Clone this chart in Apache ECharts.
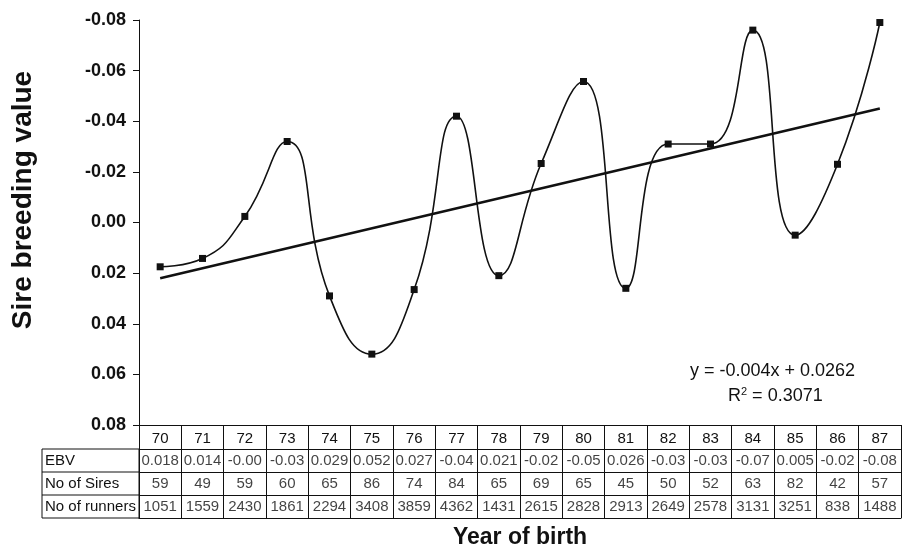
<!DOCTYPE html>
<html>
<head>
<meta charset="utf-8">
<script src="https://cdn.jsdelivr.net/npm/echarts@6/dist/echarts.min.js"></script>
<style>
  html, body { margin: 0; padding: 0; background: #ffffff; }
  #chart { width: 903px; height: 554px; }
</style>
</head>
<body>
<div id="chart"></div>
<script>
// ---- data ----
const years = ['70','71','72','73','74','75','76','77','78','79','80','81','82','83','84','85','86','87'];
const ebv = [0.0175, 0.0142, -0.0024, -0.032, 0.029, 0.052, 0.0265, -0.042, 0.021, -0.0233, -0.0557, 0.026, -0.031, -0.031, -0.076, 0.005, -0.023, -0.079];
const ebvLabels = ['0.018','0.014','-0.00','-0.03','0.029','0.052','0.027','-0.04','0.021','-0.02','-0.05','0.026','-0.03','-0.03','-0.07','0.005','-0.02','-0.08'];
const sires = [59, 49, 59, 60, 65, 86, 74, 84, 65, 69, 65, 45, 50, 52, 63, 82, 42, 57];
const runners = [1051, 1559, 2430, 1861, 2294, 3408, 3859, 4362, 1431, 2615, 2828, 2913, 2649, 2578, 3131, 3251, 838, 1488];
const rowNames = ['EBV', 'No of Sires', 'No of runners'];
const trendEnds = [0.022, -0.045];   // fitted line at first and last year
const equationText = 'y = -0.004x + 0.0262';
const r2Text = '0.3071';
const yTitle = 'Sire breeding value';
const xTitle = 'Year of birth';

// ---- build ----
const FONT = '"Liberation Sans", Arial, sans-serif';
const INK = '#111';

const tableCells = [];
const rows = [ebvLabels, sires.map(String), runners.map(String)];
rows.forEach((row, r) => row.forEach((txt, i) => tableCells.push([i, r, txt])));

const chart = echarts.init(document.getElementById('chart'), null, { renderer: 'canvas' });
chart.setOption({
  backgroundColor: '#ffffff',
  animation: false,
  textStyle: { fontFamily: FONT, color: INK },
  grid: [
    { left: 139, right: 2, top: 20, bottom: 129, containLabel: false, outerBoundsMode: 'none' },
    { left: 139, right: 2, top: 449, bottom: 36, containLabel: false, outerBoundsMode: 'none' }
  ],
  xAxis: [
    {
      type: 'category', gridIndex: 0, data: years, boundaryGap: true, position: 'bottom',
      axisLine: { show: true, onZero: false, lineStyle: { color: INK, width: 1 } },
      axisTick: { show: true, interval: 0, length: 24, lineStyle: { color: INK, width: 1 } },
      axisLabel: { interval: 0, margin: 6, fontSize: 15, color: INK, fontFamily: FONT },
      splitLine: { show: false }
    },
    {
      type: 'category', gridIndex: 1, data: years, boundaryGap: true, position: 'bottom',
      axisLine: { show: true, onZero: false, lineStyle: { color: INK, width: 1 } },
      axisTick: { show: false },
      axisLabel: { show: false },
      splitLine: { show: true, interval: 0, lineStyle: { color: INK, width: 1 } }
    }
  ],
  yAxis: [
    {
      type: 'value', gridIndex: 0, inverse: true, min: -0.08, max: 0.08, interval: 0.02,
      axisLine: { show: true, onZero: false, lineStyle: { color: INK, width: 1 } },
      axisTick: { show: true, length: 6, lineStyle: { color: INK, width: 1 } },
      axisLabel: { fontSize: 18, fontWeight: 'bold', color: INK, margin: 13, fontFamily: FONT,
                   formatter: v => v.toFixed(2) },
      splitLine: { show: false }
    },
    {
      type: 'category', gridIndex: 1, data: rowNames, inverse: true,
      axisLine: { show: true, onZero: false, lineStyle: { color: INK, width: 1 } },
      axisTick: { show: false },
      axisLabel: { align: 'left', margin: 94, fontSize: 15, color: INK, fontFamily: FONT },
      splitLine: { show: true, interval: 0, lineStyle: { color: INK, width: 1 } }
    }
  ],
  series: [
    {
      type: 'line', name: 'EBV', xAxisIndex: 0, yAxisIndex: 0, data: ebv,
      smooth: 0.5, symbol: 'rect', symbolSize: 7,
      lineStyle: { color: INK, width: 1.6 },
      itemStyle: { color: INK }
    },
    {
      type: 'line', name: 'trend', xAxisIndex: 0, yAxisIndex: 0,
      data: [[0, trendEnds[0]], [years.length - 1, trendEnds[1]]],
      symbol: 'none', lineStyle: { color: INK, width: 2.6 }
    },
    {
      type: 'scatter', xAxisIndex: 1, yAxisIndex: 1, data: tableCells,
      symbolSize: 1, itemStyle: { color: 'rgba(0,0,0,0)' },
      label: { show: true, position: 'inside', fontSize: 15, color: INK, fontFamily: FONT,
               formatter: p => p.data[2] }
    }
  ],
  graphic: [
    { type: 'rect', silent: true, shape: { x: 42, y: 449, width: 97, height: 69 },
      style: { fill: null, stroke: INK, lineWidth: 1 } },
    { type: 'line', silent: true, shape: { x1: 42, y1: 472, x2: 139, y2: 472 },
      style: { stroke: INK, lineWidth: 1 } },
    { type: 'line', silent: true, shape: { x1: 42, y1: 495, x2: 139, y2: 495 },
      style: { stroke: INK, lineWidth: 1 } },
    { type: 'text', x: 23, y: 200, rotation: Math.PI / 2,
      style: { text: yTitle, fontSize: 28, fontWeight: 'bold', fill: INK, fontFamily: FONT,
               align: 'center', verticalAlign: 'middle' } },
    { type: 'text', x: 520, y: 538,
      style: { text: xTitle, fontSize: 23, fontWeight: 'bold', fill: INK, fontFamily: FONT,
               align: 'center', verticalAlign: 'middle' } },
    { type: 'text', left: 690, top: 362,
      style: { text: equationText, fontSize: 18, fill: INK, fontFamily: FONT } },
    { type: 'text', left: 728, top: 386,
      style: { text: '{b|R}{s|2}{b| = ' + r2Text + '}', fill: INK, fontFamily: FONT,
        rich: { b: { fontSize: 18, fontFamily: FONT, fill: INK, verticalAlign: 'bottom' },
                s: { fontSize: 11, fontFamily: FONT, fill: INK, verticalAlign: 'top', padding: [0, 0, 8, 0] } } } }
  ]
});
</script>
</body>
</html>
